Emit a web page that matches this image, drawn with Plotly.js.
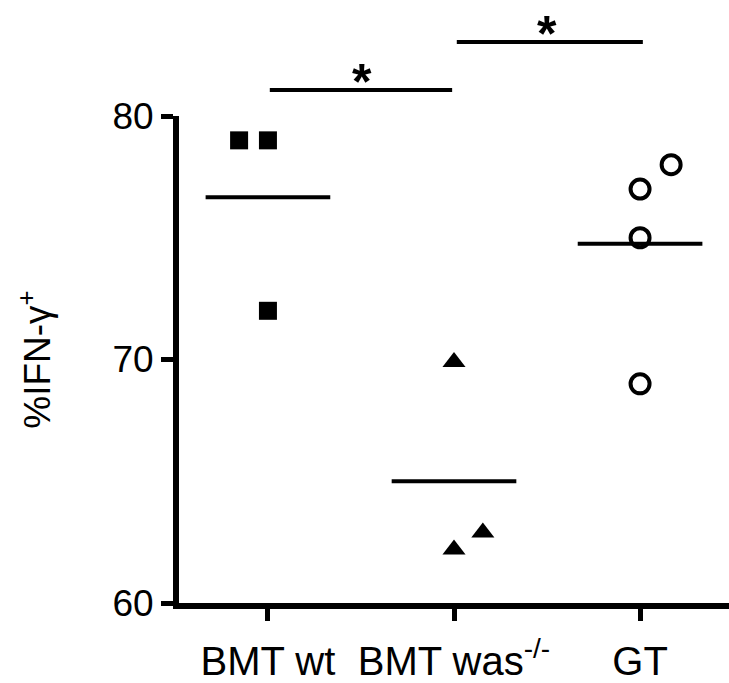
<!DOCTYPE html>
<html>
<head>
<meta charset="utf-8">
<script src="https://cdn.plot.ly/plotly-3.0.1.min.js"></script>
<style>html,body{margin:0;padding:0;background:#fff}#chart{width:729px;height:683px}</style>
</head>
<body>
<div id="chart"></div>
<script>
// Categories and tick labels
const categories = ["BMT wt", "BMT was", "GT"];
const tickLabels = ["BMT wt", "BMT was<sup>-/-</sup>", "GT"];

// Values (%IFN-gamma+)
const bmtWt = [79, 79, 72];
const bmtWas = [69.9, 62.2, 62.9];
const gt = [77, 78, 75, 69];

// horizontal jitter of points within each category (category units)
const jitterWt = [-0.155, 0, 0];
const jitterWas = [0, 0, 0.155];
const jitterGt = [0, 0.167, 0, 0];

const FONT = "Liberation Sans, Arial, Helvetica, sans-serif";
const mean = a => a.reduce((s, v) => s + v, 0) / a.length;

const groups = [
  {vals: bmtWt, jit: jitterWt, symbol: "square", size: 18, line: 0},
  {vals: bmtWas, jit: jitterWas, symbol: "triangle-up", size: 20, line: 0},
  {vals: gt, jit: jitterGt, symbol: "circle-open", size: 19, line: 4}
];

const traces = [];
groups.forEach((g, i) => {
  const m = mean(g.vals);
  traces.push({
    type: "scatter", mode: "lines",
    x: [i - 0.335, i + 0.335], y: [m, m],
    line: {color: "#000", width: 4},
    hoverinfo: "skip", showlegend: false, cliponaxis: false
  });
  traces.push({
    type: "scatter", mode: "markers",
    x: g.vals.map((v, k) => i + g.jit[k]), y: g.vals,
    name: categories[i],
    marker: {symbol: g.symbol, size: g.size, color: "#000",
             line: {color: "#000", width: g.line}},
    showlegend: false, cliponaxis: false
  });
});

const layout = {
  width: 729, height: 683,
  margin: {l: 179, r: 0, t: 116, b: 80},
  paper_bgcolor: "#fff", plot_bgcolor: "#fff",
  showlegend: false,
  font: {family: FONT, color: "#000"},
  xaxis: {
    range: [-0.478, 2.478],
    tickvals: [0, 1, 2], ticktext: tickLabels,
    showline: true, linewidth: 6, linecolor: "#000",
    ticks: "outside", ticklen: 12, tickwidth: 5, tickcolor: "#000",
    tickfont: {size: 40, family: FONT, color: "#000"},
    ticklabelstandoff: 6,
    showgrid: false, zeroline: false, fixedrange: true
  },
  yaxis: {
    range: [60, 80],
    tickvals: [60, 70, 80],
    showline: true, linewidth: 6, linecolor: "#000",
    ticks: "outside", ticklen: 12, tickwidth: 5, tickcolor: "#000",
    tickfont: {size: 37, family: FONT, color: "#000"},
    showgrid: false, zeroline: false, fixedrange: true,
    title: {text: "%IFN-γ<sup>+</sup>", font: {size: 37, family: FONT, color: "#000"}, standoff: 52}
  },
  shapes: [
    {type: "line", xref: "x", yref: "paper", x0: 0.01, x1: 0.99, y0: 1.0534, y1: 1.0534,
     line: {color: "#000", width: 4}},
    {type: "line", xref: "x", yref: "paper", x0: 1.015, x1: 2.015, y0: 1.152, y1: 1.152,
     line: {color: "#000", width: 4}}
  ],
  annotations: [
    {text: "<b>*</b>", xref: "x", yref: "paper", x: 0.505, y: 1.0534, yanchor: "bottom", showarrow: false,
     font: {size: 50, family: FONT, color: "#000"}, yshift: -22},
    {text: "<b>*</b>", xref: "x", yref: "paper", x: 1.5, y: 1.152, yanchor: "bottom", showarrow: false,
     font: {size: 50, family: FONT, color: "#000"}, yshift: -22}
  ]
};

Plotly.newPlot("chart", traces, layout, {staticPlot: true, displayModeBar: false});
</script>
</body>
</html>
